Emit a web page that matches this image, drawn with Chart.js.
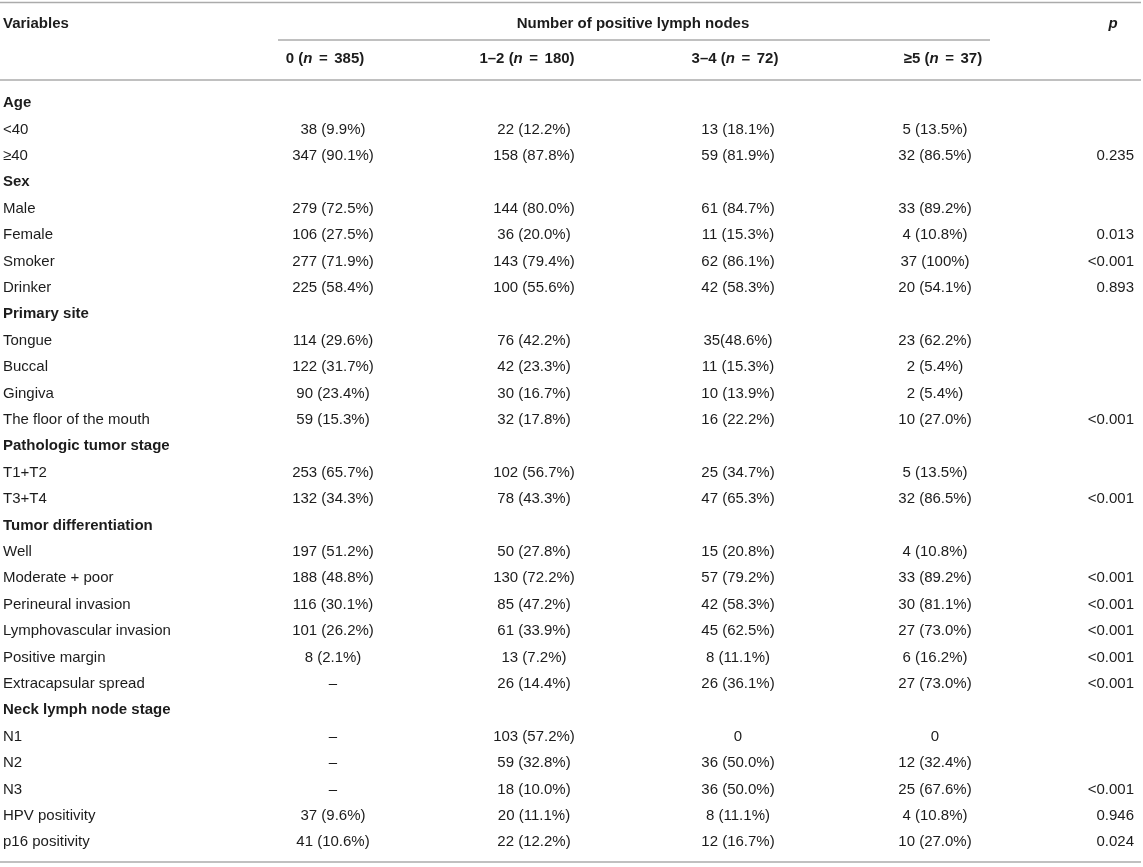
<!DOCTYPE html>
<html>
<head>
<meta charset="utf-8">
<script src="https://cdn.jsdelivr.net/npm/chart.js@4.4.1/dist/chart.umd.min.js"></script>
<style>
  html, body { margin: 0; padding: 0; background: #ffffff; }
  #wrap { width: 1143px; height: 867px; }
</style>
</head>
<body>
<div id="wrap"><canvas id="c" width="1143" height="867"></canvas></div>
<script>
// ---------------- DATA ----------------
const rowLabels = [
  "Age", "<40", "\u226540",
  "Sex", "Male", "Female", "Smoker", "Drinker",
  "Primary site", "Tongue", "Buccal", "Gingiva", "The floor of the mouth",
  "Pathologic tumor stage", "T1+T2", "T3+T4",
  "Tumor differentiation", "Well", "Moderate + poor", "Perineural invasion",
  "Lymphovascular invasion", "Positive margin", "Extracapsular spread",
  "Neck lymph node stage", "N1", "N2", "N3", "HPV positivity", "p16 positivity"
];
const groupRows = [0, 3, 8, 13, 16, 23];

const groupTitle = "Number of positive lymph nodes";
const colGroups = ["0", "1\u20132", "3\u20134", "\u22655"];
const colN = [385, 180, 72, 37];

const col0 = [null, "38 (9.9%)", "347 (90.1%)", null, "279 (72.5%)", "106 (27.5%)", "277 (71.9%)", "225 (58.4%)",
  null, "114 (29.6%)", "122 (31.7%)", "90 (23.4%)", "59 (15.3%)", null, "253 (65.7%)", "132 (34.3%)",
  null, "197 (51.2%)", "188 (48.8%)", "116 (30.1%)", "101 (26.2%)", "8 (2.1%)", "\u2013",
  null, "\u2013", "\u2013", "\u2013", "37 (9.6%)", "41 (10.6%)"];
const col1 = [null, "22 (12.2%)", "158 (87.8%)", null, "144 (80.0%)", "36 (20.0%)", "143 (79.4%)", "100 (55.6%)",
  null, "76 (42.2%)", "42 (23.3%)", "30 (16.7%)", "32 (17.8%)", null, "102 (56.7%)", "78 (43.3%)",
  null, "50 (27.8%)", "130 (72.2%)", "85 (47.2%)", "61 (33.9%)", "13 (7.2%)", "26 (14.4%)",
  null, "103 (57.2%)", "59 (32.8%)", "18 (10.0%)", "20 (11.1%)", "22 (12.2%)"];
const col2 = [null, "13 (18.1%)", "59 (81.9%)", null, "61 (84.7%)", "11 (15.3%)", "62 (86.1%)", "42 (58.3%)",
  null, "35(48.6%)", "11 (15.3%)", "10 (13.9%)", "16 (22.2%)", null, "25 (34.7%)", "47 (65.3%)",
  null, "15 (20.8%)", "57 (79.2%)", "42 (58.3%)", "45 (62.5%)", "8 (11.1%)", "26 (36.1%)",
  null, "0", "36 (50.0%)", "36 (50.0%)", "8 (11.1%)", "12 (16.7%)"];
const col3 = [null, "5 (13.5%)", "32 (86.5%)", null, "33 (89.2%)", "4 (10.8%)", "37 (100%)", "20 (54.1%)",
  null, "23 (62.2%)", "2 (5.4%)", "2 (5.4%)", "10 (27.0%)", null, "5 (13.5%)", "32 (86.5%)",
  null, "4 (10.8%)", "33 (89.2%)", "30 (81.1%)", "27 (73.0%)", "6 (16.2%)", "27 (73.0%)",
  null, "0", "12 (32.4%)", "25 (67.6%)", "4 (10.8%)", "10 (27.0%)"];
const pValues = [null, null, "0.235", null, null, "0.013", "<0.001", "0.893",
  null, null, null, null, "<0.001", null, null, "<0.001",
  null, null, "<0.001", "<0.001", "<0.001", "<0.001", "<0.001",
  null, null, null, "<0.001", "0.946", "0.024"];

// ---------------- LAYOUT / STYLE ----------------
const W = 1143, H = 867;
const ROW0_PX = 103, ROW_STEP = 26.4;
const Y_MIN = -ROW0_PX / ROW_STEP, Y_MAX = (H - ROW0_PX) / ROW_STEP;
const X_VAR = 3, X_COLS = [333, 534, 738, 935], X_HEADS = [325, 527, 735, 943], X_P = 1134, X_PHEAD = 1113;
const Y_HEAD1 = (24 - ROW0_PX) / ROW_STEP, Y_HEAD2 = (59 - ROW0_PX) / ROW_STEP;
const RULES = [
  { y: (2.5 - ROW0_PX) / ROW_STEP, x0: 0, x1: 1141 },
  { y: (40 - ROW0_PX) / ROW_STEP, x0: 278, x1: 990 },
  { y: (80 - ROW0_PX) / ROW_STEP, x0: 0, x1: 1141 },
  { y: (862 - ROW0_PX) / ROW_STEP, x0: 0, x1: 1141 }
];
const FONT = '"Liberation Sans", Arial, Helvetica, sans-serif';
const SIZE = 15;
const TEXT_COLOR = '#1c1c1c';
const RULE_COLOR = '#ababab';
const EQ_GAP = 6.5;

function makeDataset(values, xPos, align) {
  const pts = [], txt = [], bold = [];
  values.forEach((v, i) => {
    if (v === null || v === undefined) return;
    pts.push({ x: xPos, y: i });
    txt.push(v);
    bold.push(false);
  });
  return { data: pts, texts: txt, bolds: bold, align: align, pointRadius: 0, pointHoverRadius: 0, showLine: false };
}

const varDs = (() => {
  const pts = [], txt = [], bold = [];
  rowLabels.forEach((v, i) => { pts.push({ x: X_VAR, y: i }); txt.push(v); bold.push(groupRows.includes(i)); });
  return { data: pts, texts: txt, bolds: bold, align: 'left', pointRadius: 0, pointHoverRadius: 0, showLine: false };
})();

const datasets = [
  varDs,
  makeDataset(col0, X_COLS[0], 'center'),
  makeDataset(col1, X_COLS[1], 'center'),
  makeDataset(col2, X_COLS[2], 'center'),
  makeDataset(col3, X_COLS[3], 'center'),
  makeDataset(pValues, X_P, 'right')
];

function font(bold, italic) {
  return (italic ? 'italic ' : '') + (bold ? 'bold ' : '') + SIZE + 'px ' + FONT;
}

function drawRich(ctx, segs, x, y, align) {
  let total = 0;
  segs.forEach(s => {
    if (s.gap) { s.w = s.gap; }
    else { ctx.font = font(s.b, s.i); s.w = ctx.measureText(s.t).width; }
    total += s.w;
  });
  let cx = align === 'center' ? x - total / 2 : (align === 'right' ? x - total : x);
  ctx.textAlign = 'left';
  segs.forEach(s => {
    if (!s.gap) { ctx.font = font(s.b, s.i); ctx.fillText(s.t, cx, y); }
    cx += s.w;
  });
}

const tablePlugin = {
  id: 'tableText',
  afterDatasetsDraw(chart) {
    const ctx = chart.ctx;
    const xs = chart.scales.x, ys = chart.scales.y;
    ctx.save();
    // rules
    ctx.strokeStyle = RULE_COLOR;
    ctx.lineWidth = 1.6;
    RULES.forEach(r => {
      const py = ys.getPixelForValue(r.y);
      ctx.beginPath();
      ctx.moveTo(xs.getPixelForValue(r.x0), py);
      ctx.lineTo(xs.getPixelForValue(r.x1), py);
      ctx.stroke();
    });
    ctx.fillStyle = TEXT_COLOR;
    ctx.textBaseline = 'middle';
    // header
    const h1 = ys.getPixelForValue(Y_HEAD1), h2 = ys.getPixelForValue(Y_HEAD2);
    drawRich(ctx, [{ t: 'Variables', b: true }], xs.getPixelForValue(X_VAR), h1, 'left');
    drawRich(ctx, [{ t: groupTitle, b: true }], xs.getPixelForValue(633), h1, 'center');
    drawRich(ctx, [{ t: 'p', b: true, i: true }], xs.getPixelForValue(X_PHEAD), h1, 'center');
    colGroups.forEach((g, k) => {
      drawRich(ctx, [
        { t: g + ' (', b: true },
        { t: 'n', b: true, i: true },
        { gap: EQ_GAP },
        { t: '=', b: true },
        { gap: EQ_GAP },
        { t: colN[k] + ')', b: true }
      ], xs.getPixelForValue(X_HEADS[k]), h2, 'center');
    });
    // cells
    chart.data.datasets.forEach((ds, di) => {
      const meta = chart.getDatasetMeta(di);
      meta.data.forEach((el, j) => {
        drawRich(ctx, [{ t: ds.texts[j], b: ds.bolds[j] }], el.x, el.y, ds.align);
      });
    });
    ctx.restore();
  }
};

new Chart(document.getElementById('c'), {
  type: 'scatter',
  data: { datasets: datasets },
  options: {
    responsive: false,
    animation: false,
    devicePixelRatio: 1,
    layout: { padding: 0 },
    events: [],
    plugins: { legend: { display: false }, tooltip: { enabled: false } },
    scales: {
      x: { type: 'linear', min: 0, max: W, display: false },
      y: { type: 'linear', min: Y_MIN, max: Y_MAX, reverse: true, display: false }
    }
  },
  plugins: [tablePlugin]
});
</script>
</body>
</html>
